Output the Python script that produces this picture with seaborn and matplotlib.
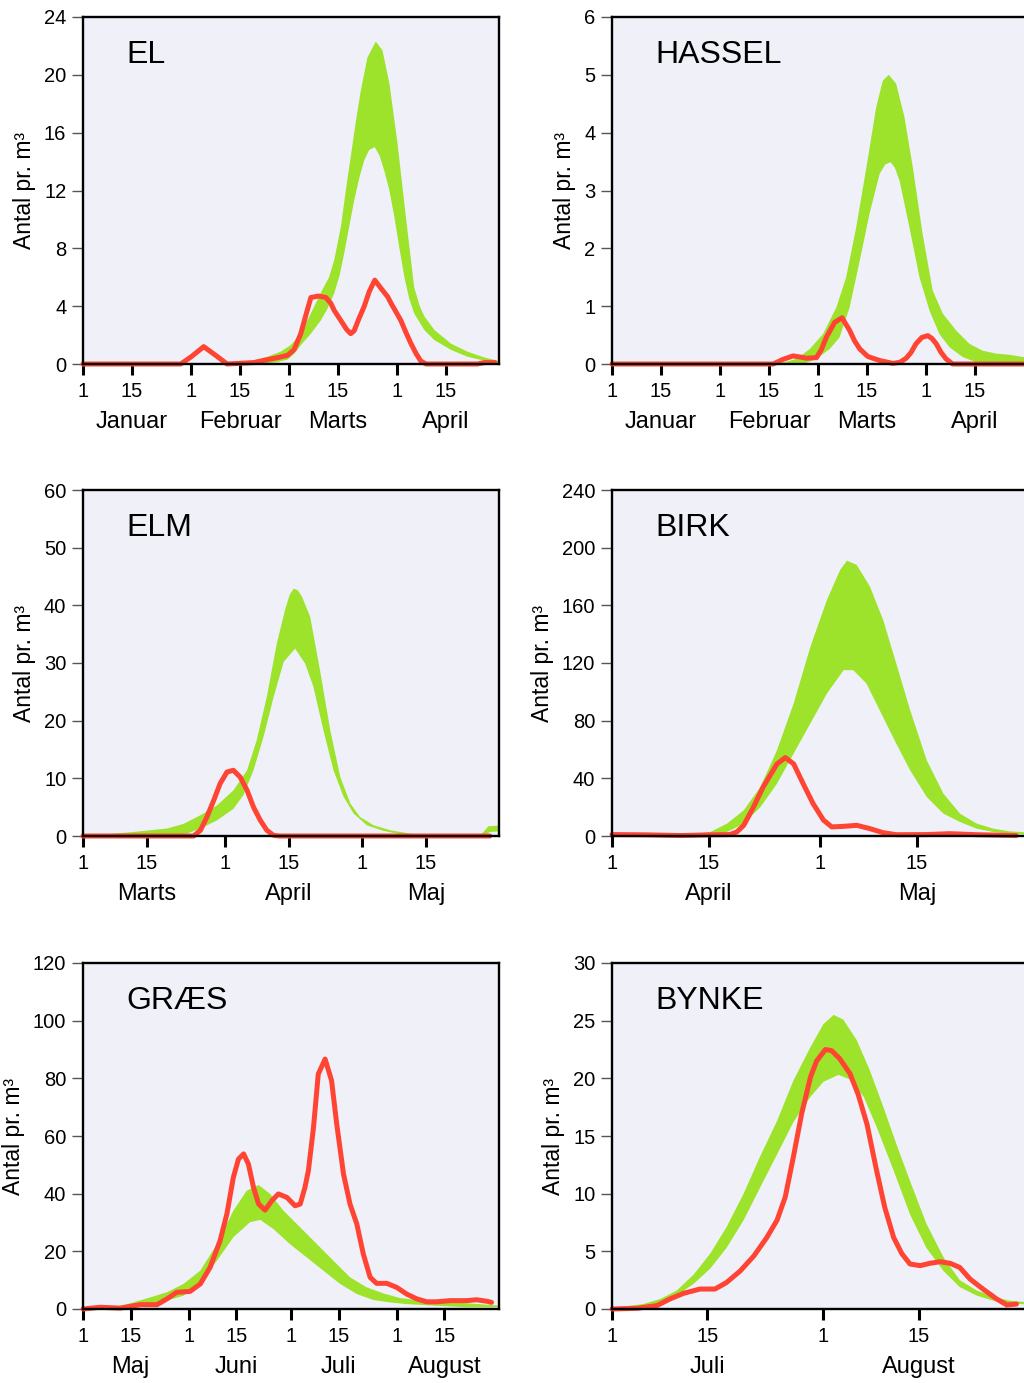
import numpy as np
import pandas as pd
import matplotlib
matplotlib.use("Agg")
import matplotlib.pyplot as plt
import seaborn as sns

# ---------------- data (day offsets from first day of first month shown) ----------------
# EL (Jan-Apr)
EL_RED_X = [0, 28, 31, 34.6, 38, 41.3, 49, 52.8, 56, 58.6, 60.5, 62.4, 64, 65.3, 67.5, 69.6, 71, 72, 73.9, 75.5,
            76.7, 77.7, 79, 80.6, 82, 83.6, 85.5, 87.3, 88.5, 89.7, 91.1, 92.5, 94, 95.5, 96.8, 98.3, 113, 115, 118]
EL_RED_Y = [0, 0, 0.5, 1.2, 0.6, 0, 0.1, 0.3, 0.45, 0.6, 1.0, 2.1, 3.5, 4.6, 4.7, 4.6, 4.2, 3.7, 3.0, 2.4,
            2.1, 2.3, 3.1, 4.0, 5.0, 5.8, 5.2, 4.65, 4.1, 3.6, 3.0, 2.2, 1.4, 0.7, 0.2, 0, 0, 0.1, 0.1]
EL_UP_X = [0, 40, 45, 49, 52.8, 56.6, 59.5, 62.4, 65.3, 68.1, 70.5, 72, 73.9, 75.3, 76.7, 78.2, 79.6, 81.5, 83.9,
           85.8, 87.8, 90.1, 92.5, 94.9, 96.5, 97.8, 100.7, 105.5, 110.2, 115, 119.5]
EL_UP_Y = [0, 0, 0.05, 0.25, 0.5, 0.85, 1.3, 2.1, 3.5, 4.9, 6.0, 7.2, 9.5, 12, 14.3, 16.8, 18.9, 21.2, 22.3,
           21.7, 19.4, 15.3, 10.2, 5.3, 4.0, 3.3, 2.35, 1.4, 0.85, 0.45, 0.2]
EL_LO_X = [0, 50, 55, 58.6, 60.5, 62.4, 65.3, 68.1, 70, 72, 73.5, 74.8, 76.2, 77.7, 79.2, 80.6, 82, 83.6, 85,
           86.3, 87.8, 89.2, 90.6, 92.1, 93.5, 94.9, 97.8, 100.7, 105.5, 110.2, 115, 119.5]
EL_LO_Y = [0, 0, 0.1, 0.3, 0.7, 1.3, 2.1, 3.0, 3.8, 4.9, 6.1, 7.6, 9.4, 11.3, 12.9, 14.1, 14.8, 15.0, 14.4,
           13.4, 12, 10.2, 8.1, 6.0, 4.5, 3.5, 2.35, 1.65, 0.97, 0.5, 0.23, 0.1]

# HASSEL (Jan-Apr)
HA_RED_X = [0, 46.2, 49, 51.9, 54, 55.7, 58.6, 60, 61.4, 63.8, 65.9, 68.1, 69.5, 71, 73.3, 76.7, 80.5, 82.5,
            84.3, 85.7, 87.1, 88.8, 90.5, 91.7, 92.9, 94.3, 95.7, 97.6, 120]
HA_RED_Y = [0, 0, 0.08, 0.14, 0.12, 0.1, 0.11, 0.25, 0.46, 0.72, 0.8, 0.58, 0.4, 0.26, 0.13, 0.06, 0.01, 0.03,
            0.1, 0.2, 0.35, 0.46, 0.49, 0.44, 0.35, 0.2, 0.09, 0, 0]
HA_UP_X = [0, 47, 50, 52.9, 56.7, 60.5, 64.3, 67.1, 70, 72.9, 75.7, 77.6, 79.3, 81.4, 83.8, 86.2, 89, 91.9,
           94.8, 98.6, 102.4, 106.2, 110, 113.8, 117.8, 119.5]
HA_UP_Y = [0, 0, 0.04, 0.09, 0.26, 0.52, 0.98, 1.5, 2.37, 3.4, 4.44, 4.9, 5.0, 4.85, 4.27, 3.4, 2.25, 1.27,
           0.87, 0.58, 0.35, 0.23, 0.18, 0.16, 0.12, 0.1]
HA_LO_X = [0, 54.8, 58.6, 62.4, 65.2, 68.1, 71, 73.8, 76.7, 78.3, 79.8, 81, 82.4, 85.2, 88.1, 91, 93.8, 96.7,
           100.5, 104.3, 108, 119.5]
HA_LO_Y = [0, 0, 0.09, 0.26, 0.46, 0.98, 1.79, 2.6, 3.29, 3.45, 3.49, 3.4, 3.17, 2.37, 1.5, 0.92, 0.52, 0.29,
           0.12, 0.03, 0, 0]

# ELM (Mar-May)
ELM_RED_X = [0, 24.2, 25.7, 27.1, 28.6, 30, 31.5, 32.9, 34.4, 35.9, 37.3, 38.8, 40.2, 41.7, 43, 89]
ELM_RED_Y = [0, 0, 1.0, 3.3, 6.2, 9.1, 11.1, 11.4, 10.2, 7.9, 5.0, 2.7, 1.0, 0.1, 0, 0]
ELM_UP_X = [0, 3.8, 11.1, 18.4, 22, 25.7, 29.3, 32.9, 35.9, 38, 40.2, 42.4, 44.2, 45.2, 46.1, 47, 47.9, 49.7,
            51.9, 54.1, 56.3, 58.5, 60.6, 63.6, 67.2, 71.6, 76.7, 86.9, 88.7, 91]
ELM_UP_Y = [0, 0.2, 0.7, 1.3, 2.1, 3.6, 5.3, 7.9, 11.4, 16.6, 24.1, 33.4, 39.2, 41.8, 42.9, 42.6, 41.5, 38,
            28.5, 18.3, 10.2, 5.6, 3.3, 1.85, 1.0, 0.4, 0.1, 0.05, 1.7, 1.8]
ELM_LO_X = [0, 18.4, 22.7, 25.7, 29.3, 32.9, 35.1, 37.3, 39.5, 41.7, 43.9, 46.4, 48.6, 50.4, 52.6, 54.8, 57,
            59.2, 62.1, 65.7, 69.4, 75, 87.5, 89, 91]
ELM_LO_Y = [0, 0.1, 0.4, 1.3, 2.7, 4.7, 7.1, 11.4, 17.2, 24.1, 30.2, 32.5, 29.9, 25.9, 18.3, 11.4, 6.8,
            3.9, 1.85, 0.9, 0.3, 0, 0, 0.7, 0.8]

# BIRK (Apr-May)
BI_RED_X = [0, 5, 10, 14, 17, 18, 19, 20.4, 21.8, 23.8, 25, 26.2, 27.6, 29, 30.5, 31.7, 33.4, 35.3, 37.2,
            39.1, 41, 45.4, 48.7, 52.6, 58.3]
BI_RED_Y = [1.0, 0.8, 0.3, 0.8, 1.0, 2.8, 7.4, 20, 34, 50, 54.4, 50, 36, 22.5, 11, 6.3, 6.7, 7.4, 5.1,
            2.3, 0.9, 1.0, 1.6, 0.9, 0.3]
BI_UP_X = [0, 9.4, 12.2, 14.2, 16.6, 19, 21.4, 23.8, 26.2, 28.6, 31, 32.9, 33.9, 35.3, 37.2, 39.1, 41, 43,
           45.4, 47.8, 50.2, 52.6, 55, 57.4, 60]
BI_UP_Y = [0, 0.5, 1.6, 2.8, 8.6, 17.8, 34, 59.5, 91.9, 131, 163.7, 184.5, 191, 188, 173, 150, 119.7, 87.3,
           52.5, 29.4, 15.5, 8.6, 5.1, 3.2, 2.5]
BI_LO_X = [0, 14.2, 16.6, 19, 21.4, 23.8, 26.2, 28.6, 31, 33.4, 34.8, 36.7, 38.6, 41, 43, 45.4, 47.8, 50.2,
           52.6, 55, 57.4, 60]
BI_LO_Y = [0, 0.5, 2.8, 8.6, 20, 36.3, 57.2, 78, 98.8, 115, 115, 105.8, 87.3, 64.1, 45.6, 27.1, 15.5, 9.7,
           5.1, 2.8, 1.6, 1.0]

# GRAES (May-Aug)
GR_RED_X = [0, 5.1, 10.9, 16.8, 21.7, 24.6, 27.5, 31.4, 34.4, 37.3, 40.2, 42.2, 44.1, 45.6, 47.1, 48.5, 50,
            51.5, 53.4, 55.4, 57.3, 59.8, 62.2, 63.7, 65.1, 66.1, 67.6, 69, 71, 72.9, 74.4, 76.4, 78.3, 80.3,
            82.2, 84.2, 86.1, 89.1, 92, 94.9, 97.9, 100.8, 103.7, 107.6, 112.5, 115.4, 118.4, 119.8]
GR_RED_Y = [0, 0.6, 0.3, 1.5, 1.5, 3.5, 5.8, 6.1, 8.7, 14.5, 23.7, 33, 45.7, 52, 53.8, 50.3, 42.2,
            36.4, 34.3, 37.6, 39.9, 38.7, 35.8, 36.4, 42.2, 48, 63, 81.5, 86.7, 79.2, 64.2, 46.8, 36.4, 29.5,
            19.1, 11, 8.9, 8.9, 7.5, 5.2, 3.5, 2.5, 2.5, 2.9, 2.9, 3.2, 2.7, 2.3]
GR_UP_X = [0, 5.1, 10, 14.8, 19.7, 24.6, 29.5, 34.4, 39.3, 44.1, 48, 51.5, 54.9, 58.8, 63.7, 68.6, 73.4,
           78.3, 83.2, 88.1, 93, 97.9, 102.7, 112.5, 122]
GR_UP_Y = [0, 0.35, 0.8, 2.3, 4, 5.8, 8.7, 13.3, 22.5, 34.1, 41, 43, 39.9, 34.1, 28.3, 22.5, 16.8,
           11, 7.5, 5.4, 3.8, 3.1, 2.7, 2.0, 1.2]
GR_LO_X = [0, 10, 14.8, 19.7, 24.6, 29.5, 34.4, 39.3, 44.1, 49, 52, 55.9, 60.7, 65.6, 70.5, 75.4, 80.3,
           85.2, 90, 94.9, 102.7, 112.5, 122]
GR_LO_Y = [0, 0.2, 0.8, 1.7, 2.9, 4.6, 9.2, 16.8, 24.9, 30.1, 30.9, 27.7, 22.5, 17.9, 13.3, 8.7, 5.2,
           3.1, 2.3, 1.7, 1.2, 0.6, 0.6]

# BYNKE (Jul-Aug)
BY_RED_X = [0, 3.7, 6.6, 8.5, 10.5, 12.9, 15.1, 16.8, 18.8, 20.8, 22.7, 24.2, 25.4, 26.6, 27.8, 29.1, 30,
            31.3, 32.2, 33.4, 34.9, 36.1, 37.4, 38.8, 40, 41.3, 42.5, 43.7, 45.2, 46.6, 48.1, 49.6, 51,
            52.5, 54.4, 56.4, 57.9, 59.3]
BY_RED_Y = [0, 0.06, 0.3, 0.87, 1.36, 1.73, 1.73, 2.3, 3.3, 4.6, 6.2, 7.7, 9.7, 13.2, 16.9, 20.1, 21.5,
            22.5, 22.4, 21.7, 20.4, 18.6, 16, 12, 8.8, 6.2, 4.8, 3.9, 3.76, 3.96, 4.1, 3.96, 3.6,
            2.6, 1.73, 0.87, 0.35, 0.43]
BY_UP_X = [0, 4.6, 7.1, 9.5, 12, 14.4, 16.8, 19.3, 21.7, 24.2, 26.6, 29.1, 31, 32.5, 33.9, 35.9, 37.8,
           39.8, 41.7, 43.7, 46.1, 48.6, 51, 53.5, 55.9, 58.3, 61]
BY_UP_Y = [0.1, 0.43, 0.87, 1.6, 3, 4.8, 7.1, 10, 13.2, 16.3, 19.8, 22.7, 24.7, 25.5, 25.1, 23.3, 20.7,
           17.5, 14.3, 11.1, 7.4, 4.5, 2.5, 1.6, 1.07, 0.72, 0.58]
BY_LO_X = [0, 4.6, 7.1, 9.5, 12, 14.4, 16.8, 19.3, 21.7, 24.2, 26.6, 29.1, 31, 33.2, 34.9, 36.9, 38.8,
           41.3, 43.7, 46.1, 48.6, 51, 53.5, 55.9, 58.3, 61]
BY_LO_Y = [0, 0.14, 0.43, 1.16, 2.2, 3.5, 5.3, 7.7, 10.5, 13.4, 16.2, 18.4, 19.7, 20.3, 19.9, 18.4, 15.8,
           12, 8.2, 5.3, 3.3, 1.9, 1.16, 0.72, 0.5, 0.38]

# axis ticks / labels
JAN_APR_TICKS = [0, 14, 31, 45, 59, 73, 90, 104]
JAN_APR_TICKLABELS = ["1", "15", "1", "15", "1", "15", "1", "15"]
JAN_APR_MONTHS = ["Januar", "Februar", "Marts", "April"]
MAR_MAY_TICKS = [0, 14, 31, 45, 61, 75]
MAR_MAY_TICKLABELS = ["1", "15", "1", "15", "1", "15"]
MAR_MAY_MONTHS = ["Marts", "April", "Maj"]
APR_MAY_TICKS = [0, 14, 30, 44]
APR_MAY_TICKLABELS = ["1", "15", "1", "15"]
APR_MAY_MONTHS = ["April", "Maj"]
MAY_AUG_TICKS = [0, 14, 31, 45, 61, 75, 92, 106]
MAY_AUG_TICKLABELS = ["1", "15", "1", "15", "1", "15", "1", "15"]
MAY_AUG_MONTHS = ["Maj", "Juni", "Juli", "August"]
JUL_AUG_TICKS = [0, 14, 31, 45]
JUL_AUG_TICKLABELS = ["1", "15", "1", "15"]
JUL_AUG_MONTHS = ["Juli", "August"]

TITLES = ["EL", "HASSEL", "ELM", "BIRK", "GRÆS", "BYNKE"]
YTICKS_EL = [0, 4, 8, 12, 16, 20, 24]
YTICKS_HA = [0, 1, 2, 3, 4, 5, 6]
YTICKS_ELM = [0, 10, 20, 30, 40, 50, 60]
YTICKS_BI = [0, 40, 80, 120, 160, 200, 240]
YTICKS_GR = [0, 20, 40, 60, 80, 100, 120]
YTICKS_BY = [0, 5, 10, 15, 20, 25, 30]

# ---------------- style ----------------
sns.set_theme(style="white")
plt.rcParams["font.family"] = ["Liberation Sans", "DejaVu Sans"]

GREEN = "#9de22b"
RED = "#ff4433"
BG = "#f0f0f9"

FW, FH = 1024, 1383
fig = plt.figure(figsize=(FW / 100, FH / 100), dpi=100)
fig.patch.set_facecolor("white")

panels = [
    # (title, left_px, top_px, bottom_px, xmax, red, up, lo, ticks, ticklabels, months, yticks)
    ("EL", 83, 17, 364, 119.2, (EL_RED_X, EL_RED_Y), (EL_UP_X, EL_UP_Y), (EL_LO_X, EL_LO_Y),
     JAN_APR_TICKS, JAN_APR_TICKLABELS, JAN_APR_MONTHS, YTICKS_EL),
    ("HASSEL", 612, 17, 364, 119.2, (HA_RED_X, HA_RED_Y), (HA_UP_X, HA_UP_Y), (HA_LO_X, HA_LO_Y),
     JAN_APR_TICKS, JAN_APR_TICKLABELS, JAN_APR_MONTHS, YTICKS_HA),
    ("ELM", 83, 490, 836, 91, (ELM_RED_X, ELM_RED_Y), (ELM_UP_X, ELM_UP_Y), (ELM_LO_X, ELM_LO_Y),
     MAR_MAY_TICKS, MAR_MAY_TICKLABELS, MAR_MAY_MONTHS, YTICKS_ELM),
    ("BIRK", 612, 490, 836, 60, (BI_RED_X, BI_RED_Y), (BI_UP_X, BI_UP_Y), (BI_LO_X, BI_LO_Y),
     APR_MAY_TICKS, APR_MAY_TICKLABELS, APR_MAY_MONTHS, YTICKS_BI),
    ("GRÆS", 83, 963, 1309, 122, (GR_RED_X, GR_RED_Y), (GR_UP_X, GR_UP_Y), (GR_LO_X, GR_LO_Y),
     MAY_AUG_TICKS, MAY_AUG_TICKLABELS, MAY_AUG_MONTHS, YTICKS_GR),
    ("BYNKE", 612, 963, 1309, 61, (BY_RED_X, BY_RED_Y), (BY_UP_X, BY_UP_Y), (BY_LO_X, BY_LO_Y),
     JUL_AUG_TICKS, JUL_AUG_TICKLABELS, JUL_AUG_MONTHS, YTICKS_BY),
]

AXW = 416
for (title, lpx, tpx, bpx, xmax, red, up, lo, ticks, tlabels, months, yticks) in panels:
    ax = fig.add_axes([lpx / FW, 1 - bpx / FH, AXW / FW, (bpx - tpx) / FH])
    ax.set_facecolor(BG)

    # green band (normal range)
    ux, uy = np.asarray(up[0]), np.asarray(up[1])
    lx, ly = np.asarray(lo[0]), np.asarray(lo[1])
    ax.fill(np.r_[ux, lx[::-1]], np.r_[uy, ly[::-1]], color=GREEN, lw=0, zorder=1.5)

    # red line (this season)
    df = pd.DataFrame({"dag": red[0], "antal": red[1]})
    sns.lineplot(data=df, x="dag", y="antal", ax=ax, color=RED, lw=3.6, sort=False,
                 estimator=None, zorder=2)
    ln = ax.lines[-1]
    ln.set_clip_on(False)
    ln.set_solid_capstyle("round")
    ln.set_solid_joinstyle("round")

    ax.set_xlim(0, xmax)
    ax.set_ylim(yticks[0], yticks[-1])

    ax.set_xticks(ticks)
    ax.set_xticklabels(tlabels)
    mid = [t for t, l in zip(ticks, tlabels) if l == "15"]
    ax.set_xticks(mid, minor=True)
    ax.set_xticklabels(months, minor=True)
    ax.xaxis.remove_overlapping_locs = False
    ax.set_yticks(yticks)
    ax.set_yticklabels([str(v) for v in yticks])

    ax.tick_params(axis="x", which="major", bottom=True, direction="out", length=8, width=2.2,
                   color="black", labelsize=14.5, pad=5, labelcolor="black")
    ax.tick_params(axis="x", which="minor", bottom=True, length=0, labelsize=17, pad=34,
                   labelcolor="black")
    ax.tick_params(axis="y", which="major", left=True, direction="out", length=8, width=1.0,
                   color="#555555", labelsize=14.5, pad=4, labelcolor="black")

    ax.set_xlabel("")
    ax.set_ylabel("Antal pr. m³", fontsize=16.5, labelpad=6, color="black")

    for sp in ax.spines.values():
        sp.set_visible(True)
        sp.set_color("black")
        sp.set_linewidth(1.7)

    ax.text(43 / AXW, 0.867, title, transform=ax.transAxes, fontsize=23, ha="left",
            va="baseline", color="black")

fig.savefig("out.png", dpi=100, facecolor="white")
